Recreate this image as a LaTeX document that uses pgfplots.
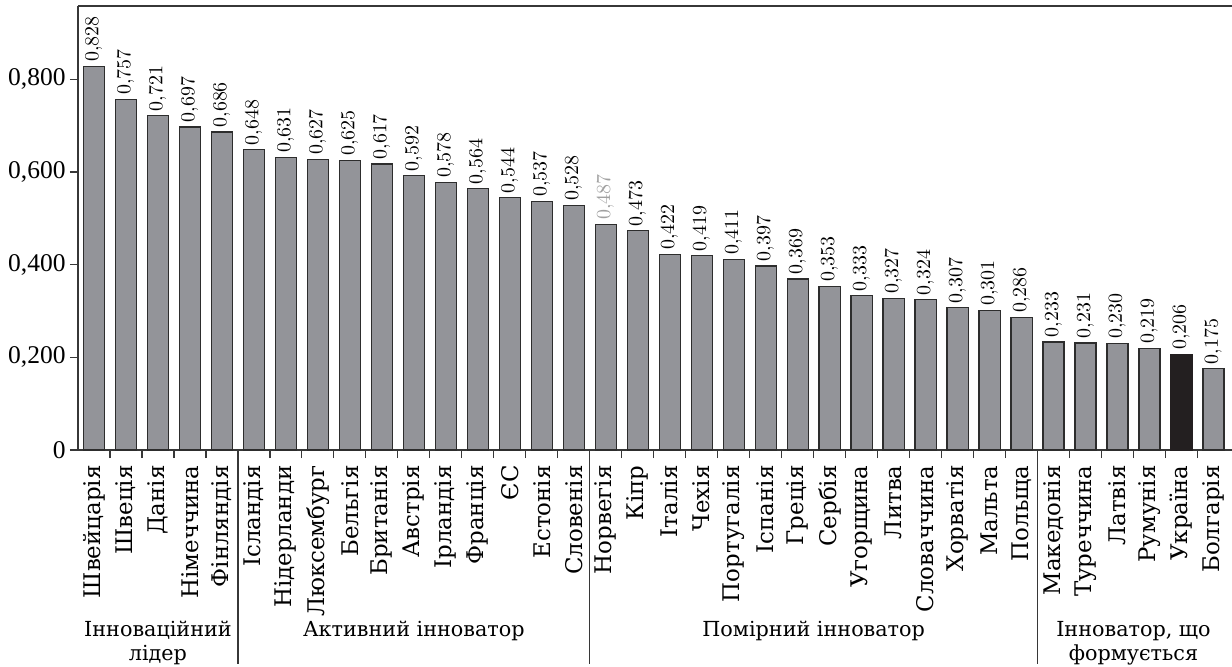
\documentclass[border=0pt]{standalone}
\usepackage{fontspec}
\setmainfont{DejaVu Serif}
\newfontfamily\numfont{Liberation Serif}
\usepackage{pgfplots}
\pgfplotsset{compat=1.18}
\definecolor{barfill}{RGB}{147,148,153}
\definecolor{baredge}{RGB}{45,45,45}
\definecolor{ukr}{RGB}{35,31,32}
\definecolor{axisgray}{RGB}{55,55,55}
\definecolor{lightlab}{RGB}{160,160,160}
\begin{document}
\begin{tikzpicture}
\begin{axis}[
  scale only axis, width=577bp, height=222bp,
  xmin=-0.5, xmax=35.58, ymin=0, ymax=0.958,
  axis x line*=bottom, axis y line*=left,
  axis line style={axisgray, line width=0.9pt},
  ytick={0,0.2,0.4,0.6,0.8},
  yticklabels={0,{0,200},{0,400},{0,600},{0,800}},
  xtick={0,...,35},
  xticklabels={Швейцарія,Швеція,Данія,Німеччина,Фінляндія,Ісландія,Нідерланди,Люксембург,Бельгія,Британія,Австрія,Ірландія,Франція,ЄС,Естонія,Словенія,Норвегія,Кіпр,Італія,Чехія,Португалія,Іспанія,Греція,Сербія,Угорщина,Литва,Словаччина,Хорватія,Мальта,Польща,Македонія,Туреччина,Латвія,Румунія,Україна,Болгарія},
  minor xtick={0.5,1.5,...,34.5},
  major x tick style={draw=none},
  tick align=outside, major tick length=4bp, minor tick length=4bp,
  tick style={axisgray, line width=0.6pt},
  xticklabel style={rotate=90, anchor=east, inner sep=3.5bp, font=\fontsize{11.5}{13}\selectfont},
  yticklabel style={font=\numfont\fontsize{12.8}{14}\selectfont, inner sep=2bp},
  ybar, bar width=0.66, bar shift=0pt,
  nodes near coords={\pgfmathprintnumber[fixed,zerofill,precision=3,use comma]{\pgfplotspointmeta}},
  every node near coord/.append style={rotate=90, anchor=west, inner sep=2bp, font=\numfont\fontsize{10}{12}\selectfont},
  clip=false,
]
\addplot[fill=barfill, draw=baredge, line width=0.6pt] coordinates {
 (0,0.828) (1,0.757) (2,0.721) (3,0.697) (4,0.686)
 (5,0.648) (6,0.631) (7,0.627) (8,0.625) (9,0.617) (10,0.592) (11,0.578) (12,0.564) (13,0.544) (14,0.537) (15,0.528)
 (17,0.473) (18,0.422) (19,0.419) (20,0.411) (21,0.397) (22,0.369) (23,0.353) (24,0.333) (25,0.327) (26,0.324) (27,0.307) (28,0.301) (29,0.286)
 (30,0.233) (31,0.231) (32,0.230) (33,0.219) (35,0.175)
};
\addplot[fill=barfill, draw=baredge, line width=0.6pt, every node near coord/.append style={text=lightlab}] coordinates {(16,0.487)};
\addplot[fill=ukr, draw=ukr, line width=0.6pt] coordinates {(34,0.206)};
\draw[axisgray, line width=0.9pt] (rel axis cs:0,1) -- (rel axis cs:1,1);
\draw[axisgray, line width=0.6pt] (axis cs:4.5,0) -- ++(0pt,-107bp);
\draw[axisgray, line width=0.6pt] (axis cs:15.5,0) -- ++(0pt,-107bp);
\draw[axisgray, line width=0.6pt] (axis cs:29.5,0) -- ++(0pt,-107bp);
\coordinate (tl) at (rel axis cs:0,1);
\coordinate (br) at (rel axis cs:1,0);
\tikzset{grp/.style={anchor=base, inner sep=0pt, font=\fontsize{10.4}{13}\selectfont}}
\node[grp] at ([yshift=-93bp]axis cs:2,0) {Інноваційний};
\node[grp] at ([yshift=-105bp]axis cs:2,0) {лідер};
\node[grp] at ([yshift=-93bp]axis cs:10,0) {Активний інноватор};
\node[grp] at ([yshift=-93bp]axis cs:22.5,0) {Помірний інноватор};
\node[grp] at ([yshift=-93bp]axis cs:32.5,0) {Інноватор, що};
\node[grp] at ([yshift=-105bp]axis cs:32.5,0) {формується};
\end{axis}
\pgfresetboundingbox
\path ([xshift=-39bp,yshift=3bp]tl) rectangle ([yshift=-108.5bp]br);
\end{tikzpicture}
\end{document}
